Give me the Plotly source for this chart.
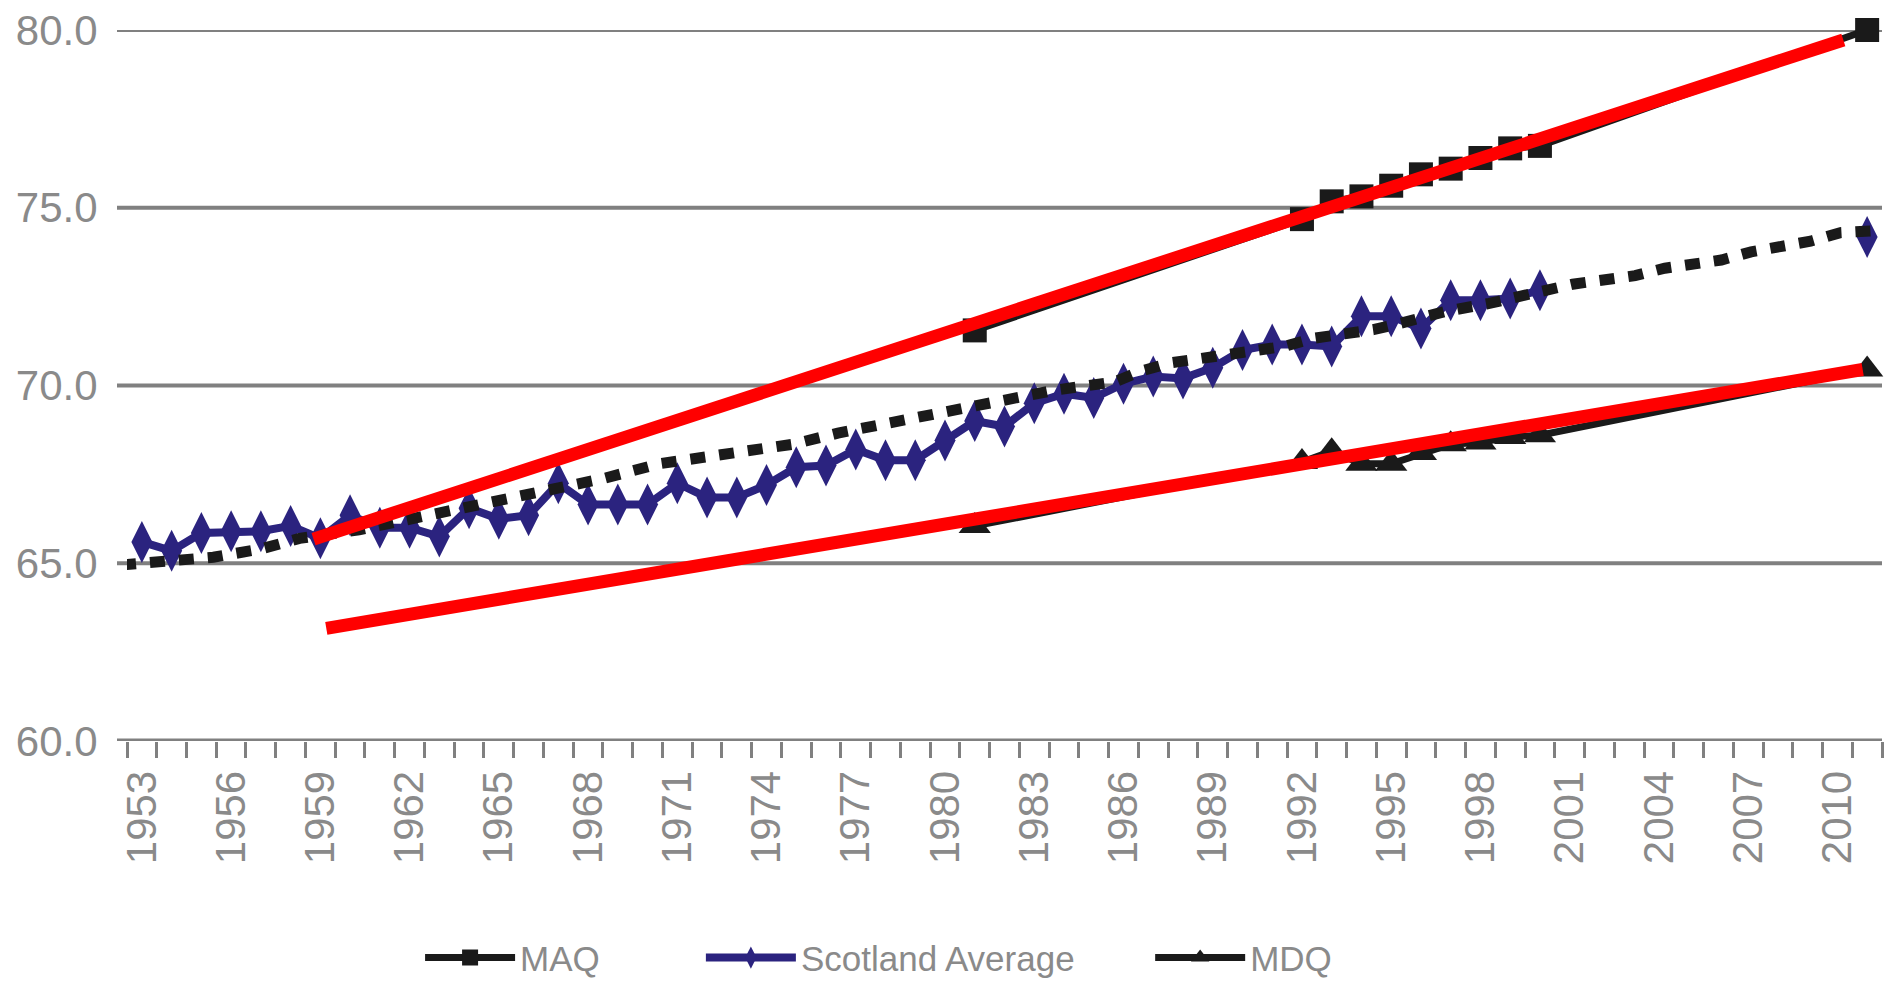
import plotly.graph_objects as go

# ---------------- data ----------------
years = list(range(1953, 2012))          # one category per year, 1953..2011
label_years = list(range(1953, 2011, 3)) # 1953, 1956, ..., 2010
label_text = [str(y) for y in label_years]

# Scotland Average (navy, diamonds) - None where the chart has no point
scotland_average = [
    65.6, 65.35, 65.85, 65.9, 65.9, 66.05, 65.7, 66.35, 66.0, 66.0,      # 1953-1962
    65.75, 66.55, 66.25, 66.35, 67.25, 66.65, 66.65, 66.65, 67.25, 66.85,  # 1963-1972
    66.85, 67.2, 67.7, 67.75, 68.2, 67.9, 67.9, 68.45, 69.0, 68.85,     # 1973-1982
    69.5, 69.77, 69.65, 70.05, 70.25, 70.2, 70.5, 71.0, 71.15, 71.15,   # 1983-1992
    71.1, 71.95, 71.95, 71.6, 72.4, 72.4, 72.45, 72.68,                 # 1993-2000
    None, None, None, None, None, None, None, None, None, None,         # 2001-2010
    74.18,                                                              # 2011
]

# MAQ (black, squares)
maq_years = [1981, 1992, 1993, 1994, 1995, 1996, 1997, 1998, 1999, 2000, 2011]
maq_values = [71.55, 74.68, 75.18, 75.32, 75.62, 75.94, 76.1, 76.4, 76.67, 76.74, 80.0]

# MDQ (black, triangles)
mdq_years = [1981, 1992, 1993, 1994, 1995, 1996, 1997, 1998, 1999, 2000, 2011]
mdq_values = [66.05, 67.85, 68.15, 67.8, 67.8, 68.1, 68.35, 68.4, 68.55, 68.6, 70.45]

# black dotted trend line (sampled along the drawn line)
trend_years = [1952.3, 1955.4, 1957.0, 1958.3, 1960.3, 1962.7, 1964.2, 1966.0, 1967.0,
               1968.5, 1970.4, 1972.9, 1974.9, 1976.4, 1977.8, 1979.8, 1982.2, 1983.7,
               1985.7, 1986.6, 1987.6, 1989.4, 1991.4, 1992.4, 1994.4, 1995.4, 1996.8,
               1998.3, 2001.1, 2003.2, 2004.2, 2006.1, 2007.1, 2009.1, 2010.1, 2011.2]
trend_values = [64.95, 65.17, 65.40, 65.70, 65.94, 66.37, 66.62, 66.92, 67.15,
                67.38, 67.80, 68.14, 68.35, 68.66, 68.90, 69.25, 69.65, 69.87,
                70.10, 70.41, 70.64, 70.87, 71.10, 71.33, 71.57, 71.77, 72.08,
                72.31, 72.85, 73.09, 73.30, 73.53, 73.76, 74.06, 74.30, 74.35]

# red hand-drawn lines
red_upper_years = [1958.77, 2010.2]
red_upper_values = [65.68, 79.72]
red_lower_years = [1959.2, 2010.85]
red_lower_values = [63.17, 70.45]

y_ticks = [60, 65, 70, 75, 80]
y_tick_text = ["60.0", "65.0", "70.0", "75.0", "80.0"]

# ---------------- styling ----------------
FONT = "Liberation Sans, Arial, sans-serif"
GRAY = "#8a8a8a"
GRID = "#808080"
BLACK = "#1a1a1a"
NAVY = "#2b237f"
RED = "#ff0000"

fig = go.Figure()

fig.add_trace(go.Scatter(
    x=years, y=scotland_average, name="Scotland Average", mode="lines+markers",
    connectgaps=False, legend="legend2", cliponaxis=False,
    line=dict(color=NAVY, width=8),
    marker=dict(symbol="diamond-tall", size=30, color=NAVY),
))

fig.add_trace(go.Scatter(
    x=trend_years, y=trend_values, mode="lines", showlegend=False, hoverinfo="skip",
    line=dict(color=BLACK, width=11, dash="15px,14px"),
))

fig.add_trace(go.Scatter(
    x=maq_years, y=maq_values, name="MAQ", mode="lines+markers", legend="legend",
    cliponaxis=False,
    line=dict(color=BLACK, width=7),
    marker=dict(symbol="square", size=24, color=BLACK),
))

fig.add_trace(go.Scatter(
    x=mdq_years, y=mdq_values, name="MDQ", mode="lines+markers", legend="legend3",
    cliponaxis=False,
    line=dict(color=BLACK, width=7),
    marker=dict(symbol="triangle-up", size=28, color=BLACK),
))

for xs, ys in ((red_upper_years, red_upper_values), (red_lower_years, red_lower_values)):
    fig.add_trace(go.Scatter(
        x=xs, y=ys, mode="lines", showlegend=False, hoverinfo="skip", cliponaxis=False,
        line=dict(color=RED, width=13),
    ))

# horizontal gridlines (Excel style: they start a little left of the axis)
for v in y_ticks:
    fig.add_shape(
        type="line", xref="paper", yref="y", x0=-0.0057, x1=1.0, y0=v, y1=v,
        layer="below", line=dict(color=GRID, width=5 if v == y_ticks[0] else 4),
    )

legend_style = dict(
    orientation="h", xanchor="left", y=-0.305, yanchor="middle",
    font=dict(family=FONT, size=35, color=GRAY),
    itemwidth=90, bgcolor="rgba(0,0,0,0)", borderwidth=0,
)

fig.update_layout(
    width=1885, height=981,
    margin=dict(l=127, r=3, t=30, b=240, autoexpand=False),
    paper_bgcolor="white", plot_bgcolor="white",
    font=dict(family=FONT, color=GRAY, size=35),
    showlegend=True,
    legend=dict(x=0.167, **legend_style),
    legend2=dict(x=0.327, **legend_style),
    legend3=dict(x=0.583, **legend_style),
)

fig.update_xaxes(
    type="linear", range=[1952.5, 2011.5], automargin=False,
    showgrid=False, zeroline=False, showline=False,
    tickmode="array", tickvals=label_years, ticktext=label_text,
    tickangle=-90, ticks="outside", ticklen=12, tickcolor="rgba(0,0,0,0)",
    tickfont=dict(family=FONT, size=42, color=GRAY),
    minor=dict(tick0=1952.5, dtick=1, ticks="outside", ticklen=16,
               tickwidth=3, tickcolor=GRID, showgrid=False),
)

fig.update_yaxes(
    range=[60, 80], zeroline=False, automargin=False,
    showgrid=False, showline=False,
    tickmode="array", tickvals=y_ticks, ticktext=y_tick_text,
    ticks="outside", ticklen=20, tickcolor="rgba(0,0,0,0)",
    tickfont=dict(family=FONT, size=42, color=GRAY),
)

fig.write_html(
    "out.html",
    config={"displayModeBar": False},
    post_script="document.body.style.margin='0';document.body.style.overflow='hidden';",
)
